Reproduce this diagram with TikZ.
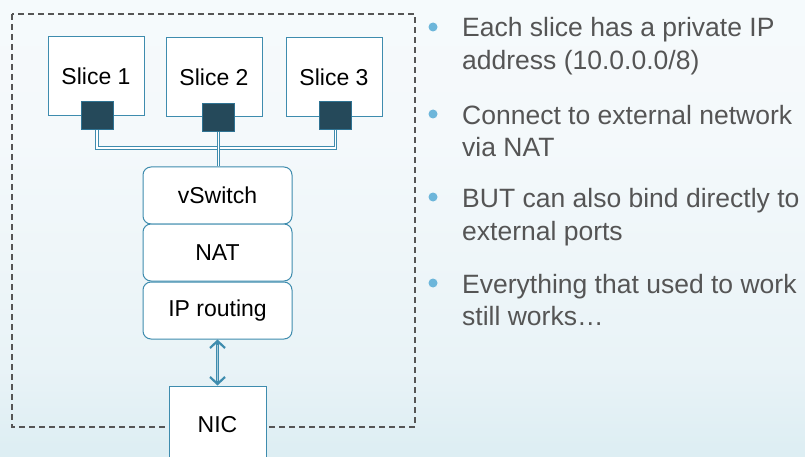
\documentclass[tikz,border=0pt]{standalone}
\usepackage{fontspec}
\setmainfont{Liberation Sans}
\usetikzlibrary{arrows.meta}

\definecolor{edge}{HTML}{3E8CAE}
\definecolor{portfill}{HTML}{25495A}
\definecolor{portedge}{HTML}{2F7393}
\definecolor{dash}{HTML}{555555}
\definecolor{bodytext}{HTML}{555555}
\definecolor{dot}{HTML}{6DB6DA}
\definecolor{bgA}{HTML}{B5D9E3}
\definecolor{bgB}{HTML}{D0E8EE}
\definecolor{bgC}{HTML}{E9F3F7}
\definecolor{bgD}{HTML}{F4F9FB}
\definecolor{bgE}{HTML}{F8FBFD}

% soft backdrop, darker toward the bottom
\pgfdeclareverticalshading{backdrop}{100bp}{%
  color(0bp)=(bgA); color(15bp)=(bgB); color(35bp)=(bgC);
  color(60bp)=(bgD); color(100bp)=(bgE)}

\tikzset{
  box/.style={draw=edge, fill=white, line width=1pt, inner sep=0pt,
    font=\fontsize{23}{27}\selectfont, text=black},
  slicebox/.style={box, minimum width=96pt, minimum height=79pt},
  layer/.style={box, rounded corners=8pt, minimum width=149pt, minimum height=57pt},
  port/.style={draw=portedge, fill=portfill, line width=1pt,
    minimum width=32pt, minimum height=28pt, inner sep=0pt},
  bus/.style={draw=edge, line width=1pt, double=white, double distance=1.3pt},
  frame/.style={draw=dash, line width=1.1pt, dash pattern=on 6pt off 4pt},
  biarrow/.style={draw=edge, line width=3.4pt,
    >={Straight Barb[line width=2.2pt, length=7pt, width=15pt]}, <->},
  line/.style={anchor=base west, inner sep=0pt, text=bodytext,
    font=\fontsize{26.5}{32}\selectfont},
  bullet/.style={circle, fill=dot, inner sep=0pt, minimum size=9pt},
}

\begin{document}
\begin{tikzpicture}[x=1pt, y=-1pt]
  \useasboundingbox (0,0) rectangle (805,457);
  \clip (0,0) rectangle (805,457);
  \shade[shading=backdrop] (0,0) rectangle (805,457);

  % host boundary
  \draw[frame] (12,14) rectangle (415,427);

  % slices and their ports
  \node[slicebox] (s1) at (96,76.5) {Slice 1};
  \node[slicebox] (s2) at (214,77) {Slice 2};
  \node[slicebox] (s3) at (334,77) {Slice 3};

  \coordinate (busy) at (0,148);
  \node[layer] (vs) at (217.5,195.5) {vSwitch};
  \node[layer] (nat) at (217.5,252.5) {NAT};
  \node[layer] (ip) at (217.5,310.5) {IP routing};

  \node[port] (p1) at (97,116) {};
  \node[port] (p2) at (218.5,118) {};
  \node[port] (p3) at (335.5,116) {};

  % virtual wiring from the ports to the switch
  \draw[bus] (p1.south) |- (p3.south |- busy) -- (p3.south);
  \draw[bus] (p2.south) -- (vs.north -| p2.south);

  % physical interface
  \node[box, minimum width=97pt, minimum height=78pt] (nic) at (217.5,425) {NIC};

  \draw[biarrow] (ip.south) -- (nic.north);
  \draw[white!55!edge, line width=1.2pt, shorten <=5pt, shorten >=5pt]
    (ip.south) -- (nic.north);

  % notes
  \node[bullet] (d1) at (433,27) {};
  \node[line] (t1a) at (462,37) {Each slice has a private IP};
  \node[line] (t1b) at (462,69.5) {address (10.0.0.0/8)};
  \node[bullet] (d2) at (433,114) {};
  \node[line] (t2a) at (462,124.5) {Connect to external network};
  \node[line] (t2b) at (462,157) {via NAT};
  \node[bullet] (d3) at (433,197) {};
  \node[line] (t3a) at (462,207.5) {BUT can also bind directly to};
  \node[line] (t3b) at (462,240) {external ports};
  \node[bullet] (d4) at (433,283) {};
  \node[line] (t4a) at (462,293) {Everything that used to work};
  \node[line] (t4b) at (462,325.5) {still works…};
\end{tikzpicture}
\end{document}
